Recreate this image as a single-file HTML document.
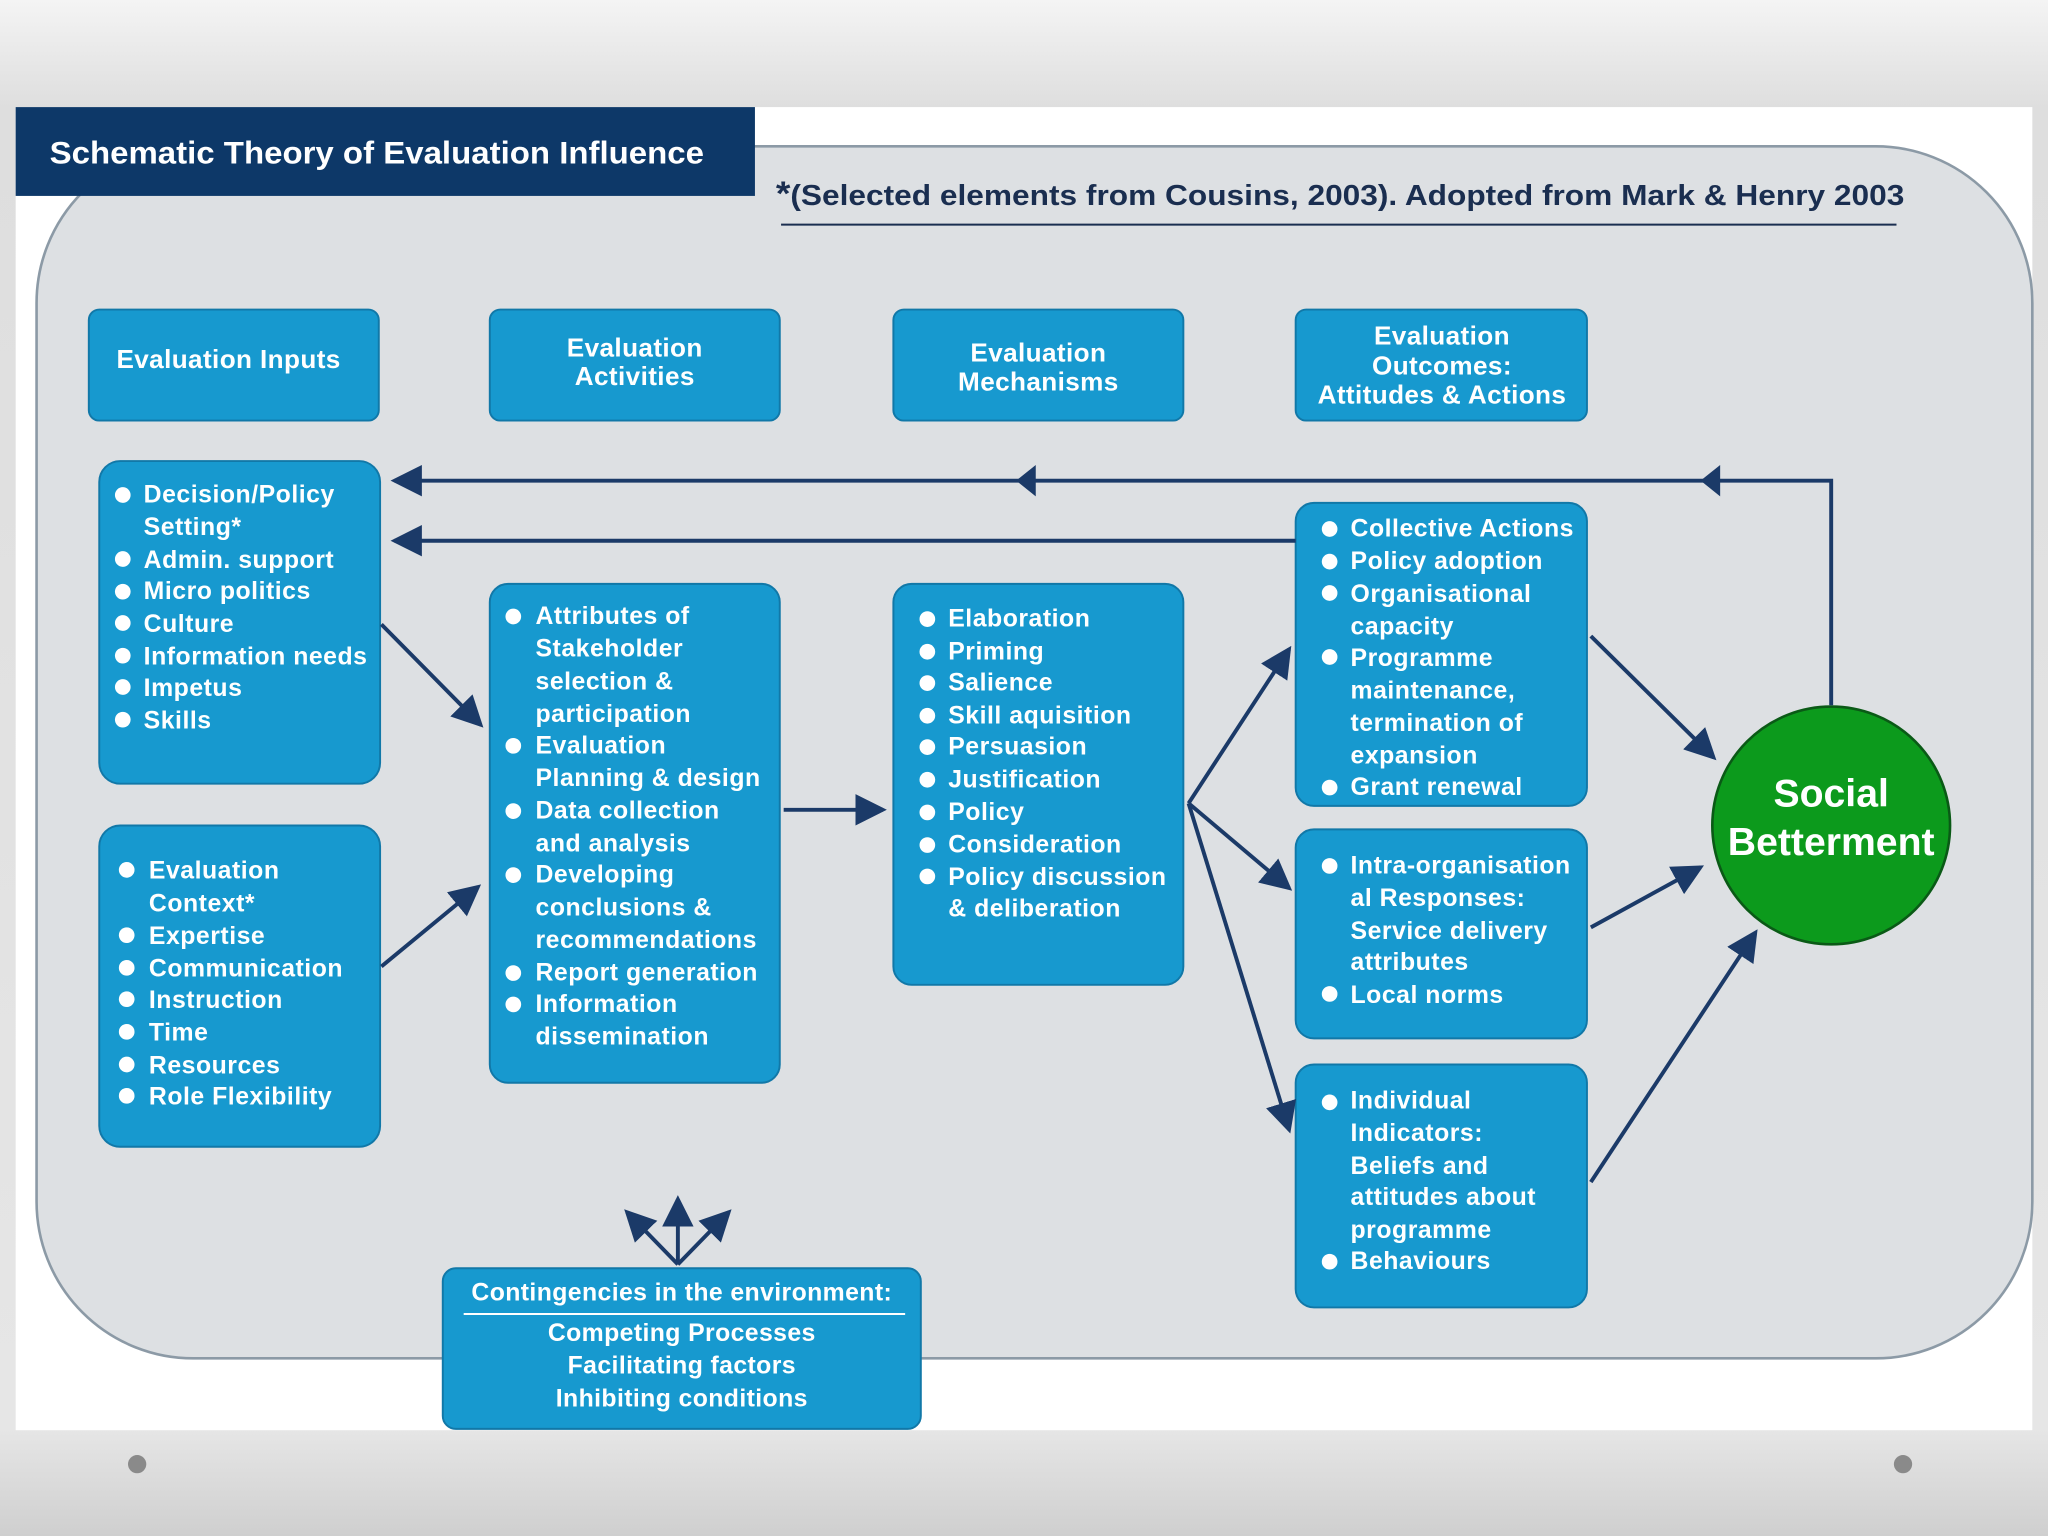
<!DOCTYPE html>
<html><head><meta charset="utf-8"><style>
html,body{margin:0;padding:0;width:2048px;height:1536px;overflow:hidden;background:#e4e4e4}
svg{display:block}
text{font-family:"Liberation Sans",sans-serif;font-weight:bold}
</style></head><body>
<svg width="2048" height="1536" viewBox="0 0 1568 1176" xmlns="http://www.w3.org/2000/svg">
<defs>
<linearGradient id="bg" x1="0" y1="0" x2="0" y2="1">
<stop offset="0" stop-color="#f4f4f4"/><stop offset="0.07" stop-color="#dedede"/><stop offset="0.93" stop-color="#e6e6e6"/><stop offset="1" stop-color="#cfcfcf"/>
</linearGradient>
<marker id="ah" markerWidth="8" markerHeight="8" refX="7" refY="4" orient="auto" markerUnits="strokeWidth">
<path d="M0,0 L8,4 L0,8 z" fill="#1b3a68"/></marker>
</defs>
<rect width="1568" height="1176" fill="url(#bg)"/>
<rect x="12" y="82" width="1544" height="1013" fill="#ffffff"/>
<circle cx="105" cy="1121" r="7" fill="#8a8a8a"/>
<circle cx="1457" cy="1121" r="7" fill="#8a8a8a"/>
<rect x="28" y="112" width="1528" height="928" rx="120" fill="#dde0e3" stroke="#8c9aa6" stroke-width="2"/>
<rect x="12" y="82" width="566" height="68" fill="#0d3868"/>
<text x="38" y="125" font-size="24" fill="#fff" textLength="501" lengthAdjust="spacingAndGlyphs" font-weight="normal" style="font-weight:600">Schematic Theory of Evaluation Influence</text>
<text x="594" y="157" font-size="22" fill="#1a2e50" textLength="864" lengthAdjust="spacingAndGlyphs"><tspan font-size="26">*</tspan>(Selected  elements from Cousins, 2003). Adopted from Mark &amp; Henry 2003</text>
<line x1="598" y1="172" x2="1452" y2="172" stroke="#1a2e50" stroke-width="1.5"/>

<g fill="#1799cf" stroke="#1178a8" stroke-width="1.5">
<rect x="68" y="237" width="222" height="85" rx="8"/>
<rect x="375" y="237" width="222" height="85" rx="8"/>
<rect x="684" y="237" width="222" height="85" rx="8"/>
<rect x="992" y="237" width="223" height="85" rx="8"/>
<rect x="76" y="353" width="215" height="247" rx="16"/>
<rect x="76" y="632" width="215" height="246" rx="16"/>
<rect x="375" y="447" width="222" height="382" rx="14"/>
<rect x="684" y="447" width="222" height="307" rx="14"/>
<rect x="992" y="385" width="223" height="232" rx="14"/>
<rect x="992" y="635" width="223" height="160" rx="14"/>
<rect x="992" y="815" width="223" height="186" rx="14"/>
<rect x="339" y="971" width="366" height="123" rx="10"/>
</g>
<circle cx="1402" cy="632" r="91" fill="#0c9a1c" stroke="#0a5a16" stroke-width="2"/>
<text x="1402" y="608" font-size="30" fill="#fff" text-anchor="middle" dominant-baseline="central">Social</text>
<text x="1402" y="645" font-size="30" fill="#fff" text-anchor="middle" dominant-baseline="central">Betterment</text>

<g font-size="20" fill="#fff" text-anchor="middle" dominant-baseline="central" letter-spacing="0.3">
<text x="175" y="275">Evaluation Inputs</text>
<text x="486" y="266">Evaluation</text><text x="486" y="288">Activities</text>
<text x="795" y="270">Evaluation</text><text x="795" y="292">Mechanisms</text>
<text x="1104" y="257">Evaluation</text><text x="1104" y="280">Outcomes:</text><text x="1104" y="302">Attitudes &amp; Actions</text>
</g>

<g font-size="19" fill="#fff" dominant-baseline="central" letter-spacing="0.4">
<g fill="#fff"><circle cx="94" cy="379" r="6"/><circle cx="94" cy="428" r="6"/><circle cx="94" cy="453" r="6"/><circle cx="94" cy="477" r="6"/><circle cx="94" cy="502" r="6"/><circle cx="94" cy="526" r="6"/><circle cx="94" cy="551" r="6"/></g>
<text x="110" y="379">Decision/Policy</text><text x="110" y="404">Setting*</text><text x="110" y="429">Admin. support</text><text x="110" y="453">Micro politics</text><text x="110" y="478">Culture</text><text x="110" y="503">Information needs</text><text x="110" y="527">Impetus</text><text x="110" y="552">Skills</text>

<g><circle cx="97" cy="666" r="6"/><circle cx="97" cy="716" r="6"/><circle cx="97" cy="741" r="6"/><circle cx="97" cy="765" r="6"/><circle cx="97" cy="790" r="6"/><circle cx="97" cy="815" r="6"/><circle cx="97" cy="839" r="6"/></g>
<text x="114" y="667">Evaluation</text><text x="114" y="692">Context*</text><text x="114" y="717">Expertise</text><text x="114" y="742">Communication</text><text x="114" y="766">Instruction</text><text x="114" y="791">Time</text><text x="114" y="816">Resources</text><text x="114" y="840">Role Flexibility</text>

<g><circle cx="393" cy="472" r="6"/><circle cx="393" cy="571" r="6"/><circle cx="393" cy="621" r="6"/><circle cx="393" cy="670" r="6"/><circle cx="393" cy="745" r="6"/><circle cx="393" cy="769" r="6"/></g>
<text x="410" y="472">Attributes of</text><text x="410" y="497">Stakeholder</text><text x="410" y="522">selection &amp;</text><text x="410" y="547">participation</text><text x="410" y="571">Evaluation</text><text x="410" y="596">Planning &amp; design</text><text x="410" y="621">Data collection</text><text x="410" y="646">and analysis</text><text x="410" y="670">Developing</text><text x="410" y="695">conclusions &amp;</text><text x="410" y="720">recommendations</text><text x="410" y="745">Report generation</text><text x="410" y="769">Information</text><text x="410" y="794">dissemination</text>

<g><circle cx="710" cy="474" r="6"/><circle cx="710" cy="499" r="6"/><circle cx="710" cy="523" r="6"/><circle cx="710" cy="548" r="6"/><circle cx="710" cy="572" r="6"/><circle cx="710" cy="597" r="6"/><circle cx="710" cy="622" r="6"/><circle cx="710" cy="647" r="6"/><circle cx="710" cy="671" r="6"/></g>
<text x="726" y="474">Elaboration</text><text x="726" y="499">Priming</text><text x="726" y="523">Salience</text><text x="726" y="548">Skill aquisition</text><text x="726" y="572">Persuasion</text><text x="726" y="597">Justification</text><text x="726" y="622">Policy</text><text x="726" y="647">Consideration</text><text x="726" y="672">Policy discussion</text><text x="726" y="696">&amp; deliberation</text>

<g><circle cx="1018" cy="405" r="6"/><circle cx="1018" cy="430" r="6"/><circle cx="1018" cy="454" r="6"/><circle cx="1018" cy="503" r="6"/><circle cx="1018" cy="603" r="6"/></g>
<text x="1034" y="405">Collective Actions</text><text x="1034" y="430">Policy adoption</text><text x="1034" y="455">Organisational</text><text x="1034" y="480">capacity</text><text x="1034" y="504">Programme</text><text x="1034" y="529">maintenance,</text><text x="1034" y="554">termination of</text><text x="1034" y="579">expansion</text><text x="1034" y="603">Grant renewal</text>

<g><circle cx="1018" cy="663" r="6"/><circle cx="1018" cy="761" r="6"/></g>
<text x="1034" y="663">Intra-organisation</text><text x="1034" y="688">al Responses:</text><text x="1034" y="713">Service delivery</text><text x="1034" y="737">attributes</text><text x="1034" y="762">Local norms</text>

<g><circle cx="1018" cy="844" r="6"/><circle cx="1018" cy="966" r="6"/></g>
<text x="1034" y="843">Individual</text><text x="1034" y="868">Indicators:</text><text x="1034" y="893">Beliefs and</text><text x="1034" y="917">attitudes about</text><text x="1034" y="942">programme</text><text x="1034" y="966">Behaviours</text>
</g>

<g font-size="19" fill="#fff" text-anchor="middle" dominant-baseline="central" letter-spacing="0.3">
<text x="522" y="990">Contingencies in the environment:</text>
<text x="522" y="1021">Competing Processes</text><text x="522" y="1046">Facilitating factors</text><text x="522" y="1071">Inhibiting conditions</text>
</g>
<line x1="355" y1="1006" x2="693" y2="1006" stroke="#fff" stroke-width="1.5"/>

<g stroke="#1b3a68" stroke-width="3" fill="none">
<polyline points="1402,540 1402,368 302,368" marker-end="url(#ah)"/>
<line x1="992" y1="414" x2="302" y2="414" marker-end="url(#ah)"/>
<line x1="292" y1="478" x2="368" y2="555" marker-end="url(#ah)"/>
<line x1="292" y1="740" x2="366" y2="679" marker-end="url(#ah)"/>
<line x1="600" y1="620" x2="676" y2="620" marker-end="url(#ah)"/>
<line x1="910" y1="615" x2="987" y2="497" marker-end="url(#ah)"/>
<line x1="910" y1="615" x2="987" y2="680" marker-end="url(#ah)"/>
<line x1="910" y1="615" x2="987" y2="865" marker-end="url(#ah)"/>
<line x1="1218" y1="487" x2="1312" y2="580" marker-end="url(#ah)"/>
<line x1="1218" y1="710" x2="1302" y2="664" marker-end="url(#ah)"/>
<line x1="1218" y1="905" x2="1344" y2="714" marker-end="url(#ah)"/>
<line x1="519" y1="968" x2="519" y2="918" marker-end="url(#ah)"/>
<line x1="519" y1="968" x2="480" y2="928" marker-end="url(#ah)"/>
<line x1="519" y1="968" x2="558" y2="928" marker-end="url(#ah)"/>
</g>
<g fill="#1b3a68">
<path d="M778,368 L793,356 L793,380 z"/>
<path d="M1302,368 L1317,356 L1317,380 z"/>
</g>
</svg>
</body></html>
